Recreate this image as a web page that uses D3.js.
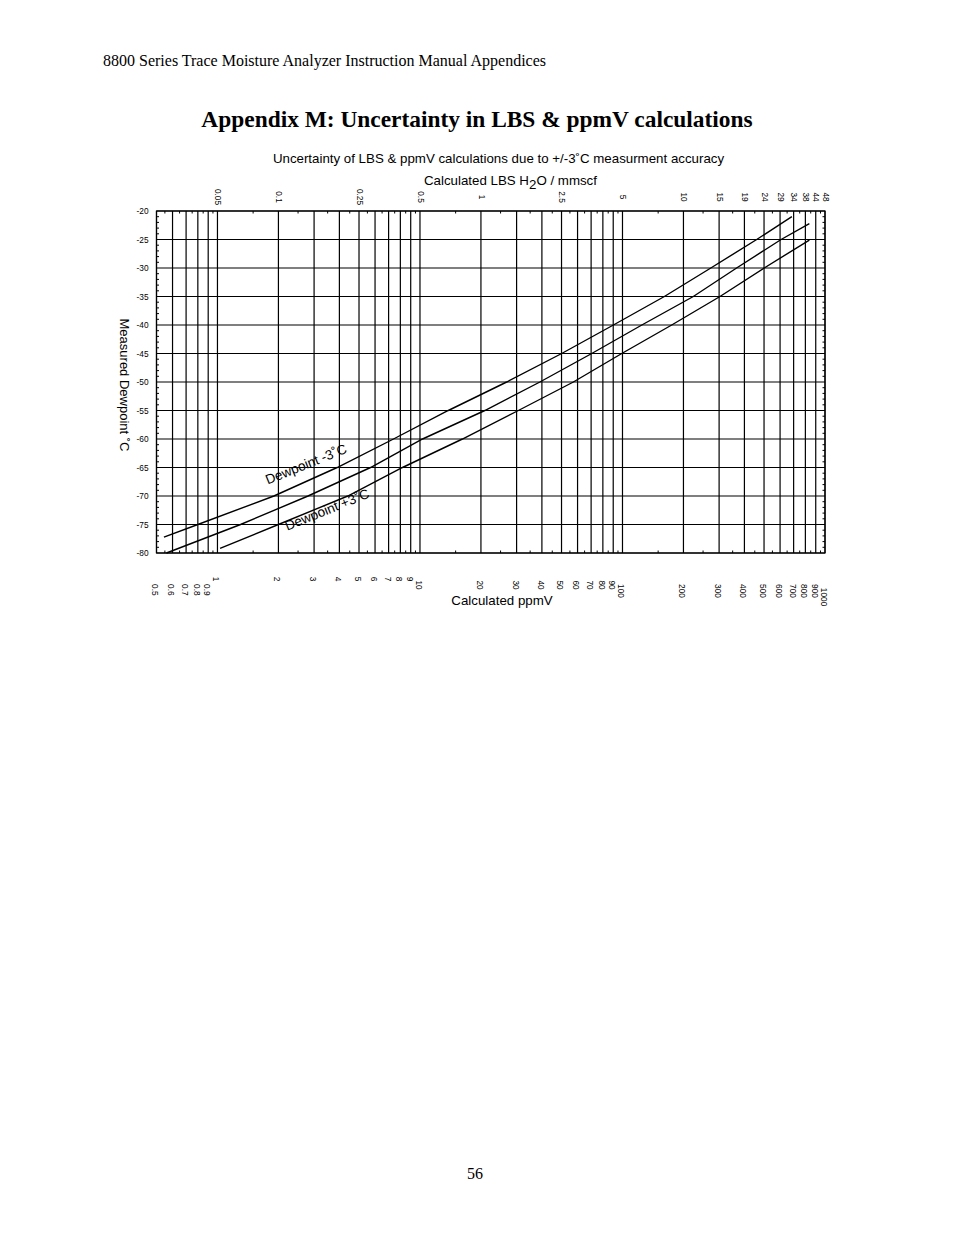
<!DOCTYPE html>
<html>
<head>
<meta charset="utf-8">
<script src="https://cdn.jsdelivr.net/npm/d3@7"></script>
<style>
  body { margin: 0; background: #fff; }
  svg text { fill: #000; }
  .page { font-family: "Liberation Serif", "Times New Roman", serif; }
  .chart text { font-family: "Liberation Sans", Arial, sans-serif; }
</style>
</head>
<body>
<div id="page"></div>
<script>
// measured dewpoint (deg C) and calculated ppmV
var dewpointMid   = [-80, -75, -70, -65, -60, -55, -50, -45, -40, -35, -30, -25, -22.2];
var ppmvMid       = [0.56, 1.3, 2.8, 5.7, 10.3, 20.9, 39.1, 70.5, 124.6, 223.7, 366, 607, 837];
var dewpointMinus = [-77.2, -75, -70, -65, -60, -55, -50, -45, -40, -35, -30, -25, -21];
var ppmvMinus     = [0.544, 0.8, 1.9, 3.9, 7.4, 13.8, 26.8, 50.1, 90.2, 161, 273, 460, 686];
var dewpointPlus  = [-79.2, -75, -70, -65, -60, -55, -50, -45, -40, -35, -30, -25.1];
var ppmvPlus      = [1.03, 2.0, 4.4, 8.2, 16.2, 30.6, 57.2, 99.2, 175, 303, 501, 837];

// bottom axis: ppmV
var ppmvTicks  = [0.5, 0.6, 0.7, 0.8, 0.9, 1, 2, 3, 4, 5, 6, 7, 8, 9, 10, 20, 30, 40, 50, 60, 70, 80, 90,
                  100, 200, 300, 400, 500, 600, 700, 800, 900, 1000];
var ppmvLabels = ['0.5', '0.6', '0.7', '0.8', '0.9', '1', '2', '3', '4', '5', '6', '7', '8', '9', '10',
                  '20', '30', '40', '50', '60', '70', '80', '90', '100', '200', '300', '400', '500',
                  '600', '700', '800', '900', '1000'];

// top axis: LBS H2O / mmscf, placed on the ppmV grid lines
var lbsAtPpmv = [1, 2, 5, 10, 20, 50, 100, 200, 300, 400, 500, 600, 700, 800, 900, 1000];
var lbsLabels = ['0.05', '0.1', '0.25', '0.5', '1', '2.5', '5', '10', '15', '19', '24', '29', '34', '38', '44', '48'];

// left axis: measured dewpoint
var dewpointTicks  = [-20, -25, -30, -35, -40, -45, -50, -55, -60, -65, -70, -75, -80];
var dewpointLabels = ['-20', '-25', '-30', '-35', '-40', '-45', '-50', '-55', '-60', '-65', '-70', '-75', '-80'];

var W = 954, H = 1235;
var plot = { left: 156.5, right: 825, top: 211, bottom: 553 };

var svg = d3.select('#page').append('svg')
            .attr('width', W)
            .attr('height', H);

// page text
var page = svg.append('g').attr('class', 'page');

page.append('text')
    .attr('x', 103).attr('y', 66)
    .style('font-size', '16px')
    .text('8800 Series Trace Moisture Analyzer Instruction Manual Appendices');

page.append('text')
    .attr('x', 477).attr('y', 127)
    .style('font-size', '23.4px')
    .style('font-weight', 'bold')
    .style('text-anchor', 'middle')
    .text('Appendix M: Uncertainty in LBS & ppmV calculations');

page.append('text')
    .attr('x', 475).attr('y', 1179)
    .style('font-size', '16px')
    .style('text-anchor', 'middle')
    .text('56');

var chart = svg.append('g').attr('class', 'chart');

var x = d3.scaleLog()
          .domain([0.5, 1000])
          .range([plot.left, plot.right]);

var y = d3.scaleLinear()
          .domain([-20, -80])
          .range([plot.top, plot.bottom]);

// grid lines
chart.append('g')
     .selectAll('line')
     .data(ppmvTicks).enter()
     .append('line')
     .attr('x1', function(d) { return x(d); })
     .attr('x2', function(d) { return x(d); })
     .attr('y1', plot.top)
     .attr('y2', plot.bottom)
     .attr('stroke', '#000')
     .attr('stroke-width', 1.2);

chart.append('g')
     .selectAll('line')
     .data(dewpointTicks).enter()
     .append('line')
     .attr('x1', plot.left)
     .attr('x2', plot.right)
     .attr('y1', function(d) { return y(d); })
     .attr('y2', function(d) { return y(d); })
     .attr('stroke', '#000')
     .attr('stroke-width', 1.2);

chart.append('rect')
     .attr('x', plot.left)
     .attr('y', plot.top)
     .attr('width', plot.right - plot.left)
     .attr('height', plot.bottom - plot.top)
     .attr('fill', 'none')
     .attr('stroke', '#000')
     .attr('stroke-width', 1.2);

// minor ticks: halfway between ppmV grid lines, every degree on the dewpoint axis
var minorX = ppmvTicks.slice(1).map(function(d, i) { return (d + ppmvTicks[i]) / 2; });
var minorY = d3.range(-79, -20).filter(function(d) { return d % 5 !== 0; });
var tickLen = 2.5;

var minor = chart.append('g')
                 .attr('stroke', '#000')
                 .attr('stroke-width', 1);

minorX.forEach(function(d) {
  minor.append('line')
       .attr('x1', x(d)).attr('x2', x(d))
       .attr('y1', plot.top).attr('y2', plot.top + tickLen);
  minor.append('line')
       .attr('x1', x(d)).attr('x2', x(d))
       .attr('y1', plot.bottom).attr('y2', plot.bottom - tickLen);
});

minorY.forEach(function(d) {
  minor.append('line')
       .attr('x1', plot.left).attr('x2', plot.left + tickLen)
       .attr('y1', y(d)).attr('y2', y(d));
  minor.append('line')
       .attr('x1', plot.right).attr('x2', plot.right - tickLen)
       .attr('y1', y(d)).attr('y2', y(d));
});

// axes (labels only, grid is drawn above)
var yAxis = d3.axisLeft(y)
              .tickValues(dewpointTicks)
              .tickFormat(function(d, i) { return dewpointLabels[i]; })
              .tickSize(0)
              .tickPadding(8);

chart.append('g')
     .attr('transform', 'translate(' + plot.left + ',0)')
     .call(yAxis)
     .call(function(g) { g.select('.domain').remove(); })
     .selectAll('text')
       .style('font-size', '8.3px');

var xAxisBottom = d3.axisBottom(x)
                    .tickValues(ppmvTicks)
                    .tickFormat(function(d, i) { return ppmvLabels[i]; })
                    .tickSize(0);

// bottom labels read downwards; longer labels start a bit lower like the original
chart.append('g')
     .attr('transform', 'translate(0,' + plot.bottom + ')')
     .call(xAxisBottom)
     .call(function(g) { g.select('.domain').remove(); })
     .selectAll('text')
       .style('font-size', '8.3px')
       .style('text-anchor', 'start')
       .attr('y', 0)
       .attr('dy', '0.55em')
       .attr('x', function(d, i) { return 20 + 3.7 * ppmvLabels[i].length; })
       .attr('transform', 'rotate(90)');

var xAxisTop = d3.axisTop(x)
                 .tickValues(lbsAtPpmv)
                 .tickFormat(function(d, i) { return lbsLabels[i]; })
                 .tickSize(0);

chart.append('g')
     .attr('transform', 'translate(0,' + plot.top + ')')
     .call(xAxisTop)
     .call(function(g) { g.select('.domain').remove(); })
     .selectAll('text')
       .style('font-size', '8.3px')
       .style('text-anchor', 'middle')
       .attr('y', 0)
       .attr('dy', '0.35em')
       .attr('x', -14)
       .attr('transform', 'rotate(90)');

// titles
chart.append('text')
     .attr('x', 498.5).attr('y', 163)
     .style('font-size', '13.3px')
     .style('text-anchor', 'middle')
     .text('Uncertainty of LBS & ppmV calculations due to +/-3\u02DAC measurment accuracy');

var lbsTitle = chart.append('text')
                    .attr('x', 510.5).attr('y', 185)
                    .style('font-size', '13.3px')
                    .style('text-anchor', 'middle');
lbsTitle.append('tspan').text('Calculated LBS H');
lbsTitle.append('tspan').attr('dy', 4).text('2');
lbsTitle.append('tspan').attr('dy', -4).text('O / mmscf');

chart.append('text')
     .attr('x', 502).attr('y', 605)
     .style('font-size', '13.3px')
     .style('text-anchor', 'middle')
     .text('Calculated ppmV');

chart.append('text')
     .attr('transform', 'translate(125,385) rotate(90)')
     .attr('dy', '0.35em')
     .style('font-size', '13px')
     .style('text-anchor', 'middle')
     .text('Measured Dewpoint \u02DAC');

// curves
var line = d3.line()
             .x(function(d) { return x(d[1]); })
             .y(function(d) { return y(d[0]); });

var curves = [
  d3.zip(dewpointMinus, ppmvMinus),
  d3.zip(dewpointMid, ppmvMid),
  d3.zip(dewpointPlus, ppmvPlus)
];

chart.append('g')
     .selectAll('path')
     .data(curves).enter()
     .append('path')
     .attr('d', line)
     .attr('fill', 'none')
     .attr('stroke', '#000')
     .attr('stroke-width', 1.4);

// curve labels
chart.append('text')
     .attr('transform', 'translate(' + x(1.77) + ',' + y(-68) + ') rotate(-22)')
     .style('font-size', '13.5px')
     .text('Dewpoint -3\u02DAC');

chart.append('text')
     .attr('transform', 'translate(' + x(2.21) + ',' + y(-76.1) + ') rotate(-22)')
     .style('font-size', '13.5px')
     .text('Dewpoint +3\u02DAC');
</script>
</body>
</html>
